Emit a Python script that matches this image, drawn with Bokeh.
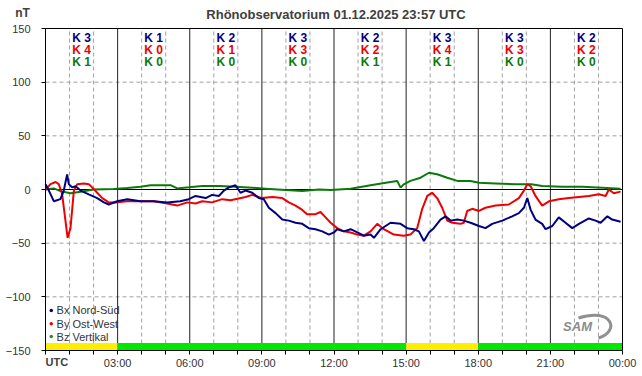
from bokeh.plotting import figure
from bokeh.models import Range1d, FixedTicker
from bokeh.embed import file_html
from bokeh.resources import INLINE
from bokeh.core.properties import value

# ---------------- data ----------------
bx_hours = [0, 0.14, 0.35, 0.62, 0.76, 0.9, 0.97, 1.11, 1.25, 1.46, 1.8, 2.15, 2.43, 2.63, 2.98,
            3.4, 3.95, 4.5, 5.06, 5.6, 5.96, 6.24, 6.66, 6.93, 7.21, 7.42, 7.63, 7.9, 8.11, 8.32,
            8.6, 8.87, 9.08, 9.29, 9.57, 9.85, 10.12, 10.4, 10.68, 10.95, 11.23, 11.51, 11.79, 12.0,
            12.13, 12.41, 12.69, 12.97, 13.24, 13.52, 13.66, 13.94, 14.35, 14.77, 15.04, 15.32,
            15.53, 15.74, 15.95, 16.15, 16.43, 16.64, 16.85, 17.13, 17.4, 17.68, 18.03, 18.3,
            18.58, 19.0, 19.41, 19.69, 19.9, 20.04, 20.18, 20.38, 20.66, 20.8, 21.08, 21.35,
            21.63, 21.91, 22.19, 22.6, 22.88, 23.09, 23.37, 23.57, 23.92]
bx_values = [5, -1, -11, -9, -1, 14, 5, 2, 3, -1, -4.5, -8, -12, -14, -11,
             -9, -11, -11, -12, -11, -9, -6, -8, -5, -6, -1, 2, 4, -3, -1,
             -3, -8, -9, -17, -22, -28, -29, -31, -32, -36, -37, -39, -42, -40,
             -37, -39, -37, -40, -43, -42, -45, -37, -31, -32, -36, -37,
             -39, -48, -40, -36, -28, -25, -29, -28, -29, -31, -34, -36,
             -32, -29, -25, -22, -17, -8, -19, -28, -32, -37, -34, -26,
             -31, -36, -32, -27, -29, -31, -25, -28, -30]

by_hours = [0, 0.21, 0.42, 0.55, 0.69, 0.83, 0.92, 1.04, 1.18, 1.32, 1.6, 1.8, 1.94, 2.15, 2.36,
            2.63, 2.98, 3.4, 3.95, 4.5, 5.06, 5.48, 5.9, 6.24, 6.52, 6.93, 7.35, 7.7, 8.32, 8.6,
            9.01, 9.43, 9.85, 10.12, 10.4, 10.68, 10.88, 11.23, 11.44, 11.65, 11.86, 12.13, 12.41,
            12.69, 12.97, 13.24, 13.52, 13.8, 14.07, 14.49, 14.9, 15.18, 15.46, 15.67, 15.88,
            16.08, 16.29, 16.5, 16.71, 16.92, 17.26, 17.4, 17.54, 17.75, 18.03, 18.3, 18.72,
            19.27, 19.69, 19.9, 20.04, 20.18, 20.38, 20.66, 20.94, 21.35, 21.77, 22.19, 22.6,
            23.02, 23.3, 23.43, 23.64, 23.92]
by_values = [0, 5, 7, 5, -4, -29, -45, -36, -1, 5, 5.5, 5, 2, -3, -8,
             -12, -12, -11, -11, -11, -13, -15, -12, -13, -11, -12, -9, -10, -7, -5,
             -8, -7, -8, -12, -15, -19, -23, -23, -21, -26, -31, -36, -39,
             -40, -42, -43, -39, -32, -37, -42, -43, -42, -36, -18, -6,
             -3, -8, -17, -29, -31, -32, -31, -20, -18, -20, -17, -15,
             -14, -8, -1, 5, 3, -6, -15, -11, -9, -8, -7, -6,
             -4.5, -6, 0, -3.5, -2]

bz_hours = [0, 0.35, 0.62, 1.04, 1.46, 2.0, 2.84, 3.4, 3.95, 4.37, 5.2, 5.48, 5.96, 6.52, 7.21,
            7.9, 8.6, 9.15, 9.98, 10.68, 11.37, 11.86, 12.69, 13.52, 14.35, 14.63, 14.77, 14.9,
            15.18, 15.6, 15.95, 16.29, 16.71, 17.13, 17.68, 18.03, 18.72, 19.55, 20.21, 20.66,
            21.49, 22.33, 23.16, 23.92]
bz_values = [0, 1, -1.5, -3.5, -2, 0, 0.5, 1.5, 2.6, 4, 4, 1, 2, 3.3, 3.3,
             2.6, 1.7, 0.8, -0.5, -1.4, 0, -0.5, 0.8, 4, 7, 8, 1.7, 4.8,
             8, 11, 15.6, 14.2, 11, 8, 8, 6.3, 5.7, 4.8, 4.8, 3.3,
             2.6, 2.6, 1.7, 0.8]

k_bx = [3, 1, 2, 3, 2, 3, 3, 2]
k_by = [4, 0, 1, 3, 2, 4, 3, 2]
k_bz = [1, 0, 0, 0, 1, 1, 0, 0]

bar_start = [0, 3, 15, 18]
bar_end = [3, 15, 18, 24]
bar_state = ["disturbed", "quiet", "disturbed", "quiet"]

series_names = ["Bx Nord-Süd", "By Ost-West", "Bz Vertikal"]
time_labels = ["UTC", "03:00", "06:00", "09:00", "12:00", "15:00", "18:00", "21:00", "00:00"]
y_ticks = [-150, -100, -50, 0, 50, 100, 150]
title_text = "Rhönobservatorium 01.12.2025 23:57 UTC"
unit_text = "nT"

# ---------------- geometry / styling ----------------
W, H = 640, 372
PL, PR, PT, PB = 45, 18, 28, 22          # pixel margins around the data area
T0, T1 = 0, 24                            # hours
V0, V1 = y_ticks[0], y_ticks[-1]          # nT
sx = (W - PL - PR) / (T1 - T0)            # px per hour
sy = (H - PT - PB) / (V1 - V0)            # px per nT

BLUE = "#000080"
RED = "#ee0000"
GREEN = "#0a7a0a"
TXT = "#333333"
FONT = "Liberation Sans"
state_color = {"disturbed": "#ffee00", "quiet": "#00e800"}

p = figure(width=W, height=H,
           x_range=Range1d(T0 - PL / sx, T1 + PR / sx),
           y_range=Range1d(V0 - PB / sy, V1 + PT / sy),
           output_backend="svg", toolbar_location=None,
           min_border=0, min_border_left=0, min_border_right=0,
           min_border_top=0, min_border_bottom=0)
p.title.text = ""
p.title.visible = False
p.background_fill_color = "white"
p.border_fill_color = "white"
p.outline_line_color = None
p.xgrid.visible = False
p.ygrid.visible = False

major_hours = list(range(T0, T1 + 1, 3))
minor_hours = [h for h in range(T0, T1 + 1) if h % 3]

# axes drawn at the edges of the data area
p.xaxis.fixed_location = V0
p.xaxis.bounds = (T0, T1)
p.xaxis.ticker = FixedTicker(ticks=major_hours, minor_ticks=minor_hours)
p.xaxis.major_label_overrides = {h: (lab if i > 0 else "") for i, (h, lab) in enumerate(zip(major_hours, time_labels))}
p.yaxis.fixed_location = T0
p.yaxis.bounds = (V0, V1)
p.yaxis.ticker = FixedTicker(ticks=y_ticks, minor_ticks=[])

for ax in (p.xaxis[0], p.yaxis[0]):
    ax.axis_line_color = "black"
    ax.major_tick_in = 0
    ax.major_tick_out = 4
    ax.minor_tick_in = 0
    ax.minor_tick_out = 4
    ax.major_tick_line_color = "black"
    ax.minor_tick_line_color = "black"
    ax.major_label_text_font = FONT
    ax.major_label_text_font_size = "11px"
    ax.major_label_text_color = TXT
p.xaxis.major_label_standoff = 2
p.yaxis.major_label_standoff = 11

# grid lines limited to the data area
p.segment(x0=minor_hours, y0=[V0] * len(minor_hours), x1=minor_hours, y1=[V1] * len(minor_hours),
          line_color="#a0a0a0", line_dash="4 3", line_width=1)
inner_y = [v for v in y_ticks if v not in (V0, V1, 0)]
p.segment(x0=[T0] * len(inner_y), y0=inner_y, x1=[T1] * len(inner_y), y1=inner_y,
          line_color="#a0a0a0", line_dash="4 3", line_width=1)
inner_major = major_hours[1:-1]
p.segment(x0=inner_major, y0=[V0] * len(inner_major), x1=inner_major, y1=[V1] * len(inner_major),
          line_color="#222222", line_width=1)
p.segment(x0=[T0], y0=[0], x1=[T1], y1=[0], line_color="black", line_width=1)

# status bar at bottom
p.quad(left=bar_start, right=bar_end, bottom=V0, top=V0 + 7,
       color=[state_color[s] for s in bar_state], line_color=None)

# field components
p.line(bz_hours, bz_values, line_color=GREEN, line_width=2)
p.line(by_hours, by_values, line_color=RED, line_width=2)
p.line(bx_hours, bx_values, line_color=BLUE, line_width=2)

# frame of the data area
p.quad(left=[T0], right=[T1], bottom=[V0], top=[V1], fill_color=None, line_color="black", line_width=1)

# K indices
centers = [T0 + 1.5 + 3 * i for i in range(len(k_bx))]
for ks, col, yv in ((k_bx, BLUE, 141), (k_by, RED, 130), (k_bz, GREEN, 119)):
    p.text(x=centers, y=[yv] * len(ks), text=[f"K {k}" for k in ks],
           text_color=col, text_font=value(FONT), text_font_style="bold",
           text_font_size="12px", text_align="center", text_baseline="middle")

# legend (dots + labels, bottom-left inside the data area)
leg_y = [-112.7, -125.1, -137.0]
p.scatter(x=[0.24] * 3, y=leg_y, size=3.5, color=[BLUE, RED, "#2a8a2a"], line_color=None)
p.text(x=[0.46] * 3, y=leg_y, text=series_names, text_color=TXT, text_font=value(FONT),
       text_font_size="11px", text_align="left", text_baseline="middle")

# SAM logo (approximation)
p.text(x=[22.13], y=[-128.1], text=["SAM"], text_color="#8c8c8c", text_font=value(FONT),
       text_font_style="bold italic", text_font_size="13px", text_align="center", text_baseline="middle")
p.bezier(x0=[22.17], y0=[-119.7], cx0=[23.58], cy0=[-109.5], cx1=[23.92], cy1=[-132],
         x1=[23.0], y1=[-138.4], line_color="#909090", line_width=3)

# title, unit and time-zone texts around the data area
p.text(x=[T0 + (335.5 - PL) / sx], y=[V1 + (PT - 14) / sy], text=[title_text],
       text_color="#404040", text_font=value(FONT), text_font_style="bold", text_font_size="13px",
       text_align="center", text_baseline="middle")
p.text(x=[T0 - (PL - 22) / sx], y=[V1 + (PT - 12) / sy], text=[unit_text],
       text_color="#404040", text_font=value(FONT), text_font_style="bold", text_font_size="12px",
       text_align="center", text_baseline="middle")
p.text(x=[T0], y=[V0 - 11 / sy], text=[time_labels[0]],
       text_color="#404040", text_font=value(FONT), text_font_style="bold", text_font_size="11px",
       text_align="left", text_baseline="middle")

open("out.html", "w").write(file_html(p, INLINE))
